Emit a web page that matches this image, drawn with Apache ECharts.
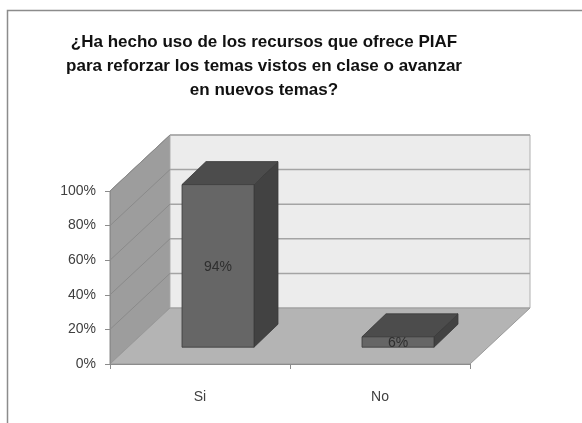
<!DOCTYPE html>
<html><head><meta charset="utf-8">
<script src="https://cdn.jsdelivr.net/npm/echarts@6/dist/echarts.min.js"></script>
<style>html,body{margin:0;padding:0;background:#fff}#c{width:582px;height:423px}</style>
</head><body><div id="c"></div>
<script>
const titleLines = ['¿Ha hecho uso de los recursos que ofrece PIAF', 'para reforzar los temas vistos en clase o avanzar', 'en nuevos temas?'];
const categories = ['Si', 'No'];
const values = [0.94, 0.06];
const yTickValues = [0, 0.2, 0.4, 0.6, 0.8, 1.0];

const WALL_DX = 60, WALL_DY = -56;
const BAR_OFF = 0.3;
const BAR_DX = 24, BAR_DY = -23;
const FONT = "'Liberation Sans', Arial, sans-serif";

const chart = echarts.init(document.getElementById('c'), null, { renderer: 'canvas' });

function wallsRender(params, api) {
  const cs = params.coordSys;
  const x0 = cs.x, x1 = cs.x + cs.width;
  const y0 = api.coord([0, 0])[1];
  const yTop = api.coord([0, 1])[1];
  const ch = [];
  ch.push({ type: 'polygon', shape: { points: [[x0, y0], [x0, yTop], [x0 + WALL_DX, yTop + WALL_DY], [x0 + WALL_DX, y0 + WALL_DY]] }, style: { fill: '#9d9d9d', stroke: '#8a8a8a', lineWidth: 1 } });
  ch.push({ type: 'polygon', shape: { points: [[x0 + WALL_DX, yTop + WALL_DY], [x1 + WALL_DX, yTop + WALL_DY], [x1 + WALL_DX, y0 + WALL_DY], [x0 + WALL_DX, y0 + WALL_DY]] }, style: { fill: '#ececec', stroke: '#b0b0b0', lineWidth: 1 } });
  ch.push({ type: 'polygon', shape: { points: [[x0, y0], [x1, y0], [x1 + WALL_DX, y0 + WALL_DY], [x0 + WALL_DX, y0 + WALL_DY]] }, style: { fill: '#b4b4b4', stroke: '#9a9a9a', lineWidth: 1 } });
  yTickValues.forEach(function (v) {
    if (v === 0) return;
    const yv = api.coord([0, v])[1];
    ch.push({ type: 'line', shape: { x1: x0 + WALL_DX, y1: yv + WALL_DY, x2: x1 + WALL_DX, y2: yv + WALL_DY }, style: { stroke: '#a4a4a4', lineWidth: 1.5 } });
    ch.push({ type: 'line', shape: { x1: x0, y1: yv, x2: x0 + WALL_DX, y2: yv + WALL_DY }, style: { stroke: '#8a8a8a', lineWidth: 1 } });
  });
  return { type: 'group', children: ch };
}

function barRender(params, api) {
  const idx = api.value(0), v = api.value(1);
  const cx = api.coord([idx, 0])[0];
  const yb = api.coord([idx, 0])[1];
  const yt = api.coord([idx, v])[1];
  const bw = api.size([1, 0])[0] * 0.4;
  const ox = WALL_DX * BAR_OFF, oy = WALL_DY * BAR_OFF;
  const l = cx - bw / 2 + ox, r = cx + bw / 2 + ox, b = yb + oy, t = yt + oy;
  const stroke = '#3a3a3a';
  return {
    type: 'group',
    children: [
      { type: 'polygon', shape: { points: [[r, t], [r + BAR_DX, t + BAR_DY], [r + BAR_DX, b + BAR_DY], [r, b]] }, style: { fill: '#424242', stroke: stroke, lineWidth: 0.8 } },
      { type: 'polygon', shape: { points: [[l, t], [r, t], [r + BAR_DX, t + BAR_DY], [l + BAR_DX, t + BAR_DY]] }, style: { fill: '#4c4c4c', stroke: stroke, lineWidth: 0.8 } },
      { type: 'rect', shape: { x: l, y: t, width: r - l, height: b - t }, style: { fill: '#666666', stroke: stroke, lineWidth: 0.8 } },
      { type: 'text', style: { text: Math.round(v * 100) + '%', x: (l + r) / 2, y: (t + b) / 2 + 1, align: 'center', verticalAlign: 'middle', textAlign: 'center', textVerticalAlign: 'middle', fill: '#2e2e2e', font: '14px ' + FONT } }
    ]
  };
}

chart.setOption({
  animation: false,
  backgroundColor: '#ffffff',
  title: {
    text: titleLines.join('\n'),
    left: 259,
    top: 25,
    textAlign: 'center',
    textStyle: { fontFamily: FONT, fontSize: 17, fontWeight: 'bold', color: '#111111', lineHeight: 24 }
  },
  graphic: [{ type: 'rect', z: -10, shape: { x: 7.5, y: 10.5, width: 700, height: 600 }, style: { fill: 'none', stroke: '#8c8c8c', lineWidth: 1.5 } }],
  grid: { left: 110, right: 112, top: 191, bottom: 59 },
  xAxis: {
    type: 'category', data: categories, boundaryGap: true, z: 5,
    axisLine: { show: true, lineStyle: { color: '#8c8c8c', width: 1 } },
    axisTick: { show: true, length: 5, lineStyle: { color: '#8c8c8c' } },
    axisLabel: { margin: 26, color: '#404040', fontSize: 14, fontFamily: FONT },
    splitLine: { show: false }
  },
  yAxis: {
    type: 'value', min: 0, max: 1, interval: 0.2, z: 5,
    axisLine: { show: true, lineStyle: { color: '#8c8c8c', width: 1 } },
    axisTick: { show: true, length: 5, lineStyle: { color: '#8c8c8c' } },
    axisLabel: { margin: 14, color: '#404040', fontSize: 14, fontFamily: FONT, formatter: function (v) { return Math.round(v * 100) + '%'; } },
    splitLine: { show: false }
  },
  series: [
    { type: 'custom', name: 'walls', z: 1, silent: true, renderItem: wallsRender, data: [[0, 0]], clip: false },
    { type: 'custom', name: 'bars', z: 2, renderItem: barRender, data: values.map(function (v, i) { return [i, v]; }), clip: false }
  ]
});
</script>
</body></html>
